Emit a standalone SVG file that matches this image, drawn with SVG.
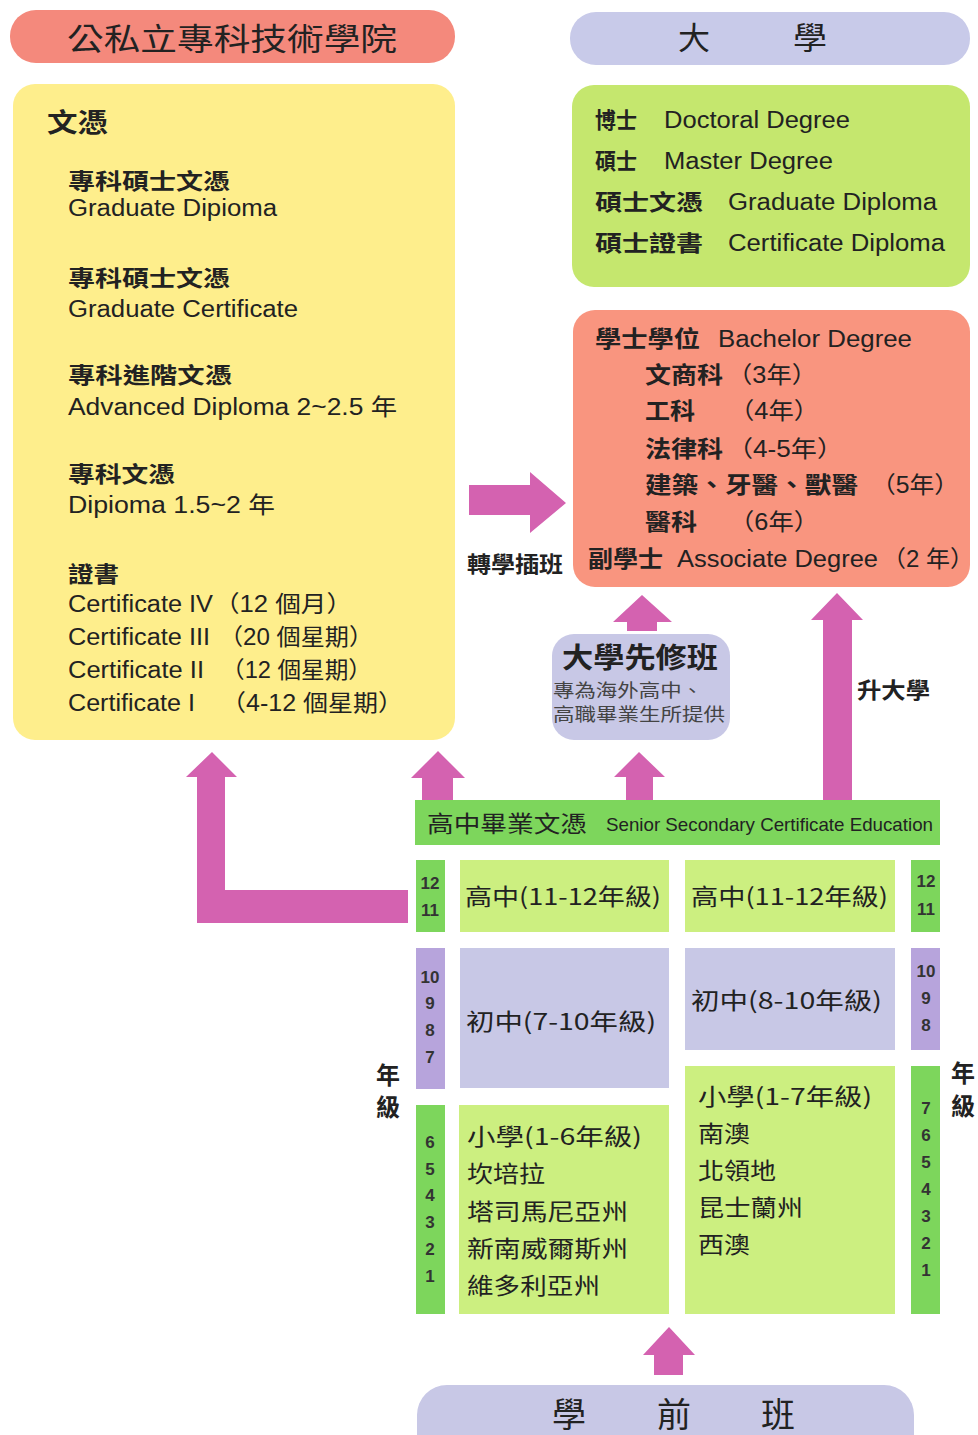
<svg xmlns="http://www.w3.org/2000/svg" width="978" height="1435" viewBox="0 0 978 1435">
<style>
text{font-family:"Liberation Sans","Noto Sans CJK TC",sans-serif;fill:#222}
.cj{font-family:"Noto Sans CJK TC","Liberation Sans",sans-serif}
.b{font-weight:bold}
.num{font-family:"Liberation Sans","Noto Sans CJK TC",sans-serif;font-weight:bold;font-size:17px;text-anchor:middle;fill:#333}
.arrow{fill:#D462B0}
.g{fill:#7DD65C}.lg{fill:#CCEF80}.pu{fill:#B7A4DC}.lv{fill:#C8C8E6}
</style>
<rect width="978" height="1435" fill="#FFFFFF"/>

<g id="connectors">
<polygon class="arrow" points="469,485 530,485 530,472 566,503 530,533 530,515 469,515"/>
<polygon class="arrow" points="642,595 672,622 657,622 657,631 627,631 627,622 613,622"/>
<polygon class="arrow" points="837,593 863,620 852,620 852,800 823,800 823,620 811,620"/>
<polygon class="arrow" points="438,751 465,778 453,778 453,800 422,800 422,778 411,778"/>
<polygon class="arrow" points="639,752 665,777 653,777 653,800 626,800 626,777 614,777"/>
<polygon class="arrow" points="212,752 237,777 225,777 225,890 408,890 408,923 197,923 197,777 186,777"/>
<polygon class="arrow" points="669,1327 695,1355 683,1355 683,1375 654,1375 654,1355 643,1355"/>
<text class="cj b" x="467" y="572" font-size="22" textLength="96" lengthAdjust="spacingAndGlyphs">轉學插班</text>
<text class="cj b" x="857" y="698" font-size="22" textLength="73" lengthAdjust="spacingAndGlyphs">升大學</text>
</g>

<g id="college-header">
<rect x="10" y="10" width="445" height="53" rx="26" fill="#F4897C"/>
<text class="cj" x="67" y="50" font-size="31" textLength="330" lengthAdjust="spacingAndGlyphs">公私立專科技術學院</text>
</g>

<g id="university-header">
<rect x="570" y="12" width="400" height="53" rx="26" fill="#C8CAE9"/>
<text class="cj" x="678" y="49" font-size="31" textLength="32" lengthAdjust="spacingAndGlyphs">大</text>
<text class="cj" x="793" y="49" font-size="31" textLength="34" lengthAdjust="spacingAndGlyphs">學</text>
</g>

<g id="college-box">
<rect x="13" y="84" width="442" height="656" rx="22" fill="#FEEE8C"/>
<text class="cj b" x="47" y="132" font-size="26" textLength="61" lengthAdjust="spacingAndGlyphs">文憑</text>
<text class="cj b" x="68" y="189" font-size="22" textLength="162" lengthAdjust="spacingAndGlyphs">專科碩士文憑</text>
<text x="68" y="216" font-size="23" textLength="209" lengthAdjust="spacingAndGlyphs">Graduate Dipioma</text>
<text class="cj b" x="68" y="286" font-size="22" textLength="162" lengthAdjust="spacingAndGlyphs">專科碩士文憑</text>
<text x="68" y="317" font-size="23" textLength="230" lengthAdjust="spacingAndGlyphs">Graduate Certificate</text>
<text class="cj b" x="68" y="383" font-size="22" textLength="164" lengthAdjust="spacingAndGlyphs">專科進階文憑</text>
<text x="68" y="415" font-size="23" textLength="329" lengthAdjust="spacingAndGlyphs">Advanced Diploma  2~2.5 年</text>
<text class="cj b" x="68" y="482" font-size="22" textLength="107" lengthAdjust="spacingAndGlyphs">專科文憑</text>
<text x="68" y="513" font-size="23" textLength="207" lengthAdjust="spacingAndGlyphs">Dipioma  1.5~2 年</text>
<text class="cj b" x="68" y="582" font-size="22" textLength="51" lengthAdjust="spacingAndGlyphs">證書</text>
<text x="68" y="612" font-size="23" textLength="145" lengthAdjust="spacingAndGlyphs">Certificate IV</text>
<text x="214" y="612" font-size="23" textLength="138" lengthAdjust="spacingAndGlyphs">（12 個月）</text>
<text x="68" y="645" font-size="23" textLength="142" lengthAdjust="spacingAndGlyphs">Certificate III</text>
<text x="219" y="645" font-size="23" textLength="154" lengthAdjust="spacingAndGlyphs">（20 個星期）</text>
<text x="68" y="678" font-size="23" textLength="136" lengthAdjust="spacingAndGlyphs">Certificate II</text>
<text x="221" y="678" font-size="23" textLength="151" lengthAdjust="spacingAndGlyphs">（12 個星期）</text>
<text x="68" y="711" font-size="23" textLength="127" lengthAdjust="spacingAndGlyphs">Certificate I</text>
<text x="221" y="711" font-size="23" textLength="182" lengthAdjust="spacingAndGlyphs">（4-12 個星期）</text>
</g>

<g id="university-box">
<rect x="572" y="85" width="398" height="202" rx="22" fill="#C5E76E"/>
<text class="cj b" x="595" y="128" font-size="22" textLength="42" lengthAdjust="spacingAndGlyphs">博士</text>
<text x="664" y="128" font-size="23" textLength="186" lengthAdjust="spacingAndGlyphs">Doctoral Degree</text>
<text class="cj b" x="595" y="169" font-size="22" textLength="42" lengthAdjust="spacingAndGlyphs">碩士</text>
<text x="664" y="169" font-size="23" textLength="169" lengthAdjust="spacingAndGlyphs">Master Degree</text>
<text class="cj b" x="595" y="210" font-size="22" textLength="108" lengthAdjust="spacingAndGlyphs">碩士文憑</text>
<text x="728" y="210" font-size="23" textLength="209" lengthAdjust="spacingAndGlyphs">Graduate Diploma</text>
<text class="cj b" x="595" y="251" font-size="22" textLength="108" lengthAdjust="spacingAndGlyphs">碩士證書</text>
<text x="728" y="251" font-size="23" textLength="217" lengthAdjust="spacingAndGlyphs">Certificate Diploma</text>
</g>

<g id="bachelor-box">
<rect x="573" y="310" width="397" height="277" rx="22" fill="#F9957F"/>
<text class="cj b" x="595" y="347" font-size="23" textLength="105" lengthAdjust="spacingAndGlyphs">學士學位</text>
<text x="718" y="347" font-size="23" textLength="194" lengthAdjust="spacingAndGlyphs">Bachelor Degree</text>
<text class="cj b" x="645" y="383" font-size="23" textLength="78" lengthAdjust="spacingAndGlyphs">文商科</text>
<text x="727" y="383" font-size="23" textLength="90" lengthAdjust="spacingAndGlyphs">（3年）</text>
<text class="cj b" x="645" y="419" font-size="23" textLength="50" lengthAdjust="spacingAndGlyphs">工科</text>
<text x="729" y="419" font-size="23" textLength="90" lengthAdjust="spacingAndGlyphs">（4年）</text>
<text class="cj b" x="645" y="457" font-size="23" textLength="78" lengthAdjust="spacingAndGlyphs">法律科</text>
<text x="727" y="457" font-size="23" textLength="116" lengthAdjust="spacingAndGlyphs">（4-5年）</text>
<text class="cj b" x="645" y="493" font-size="23" textLength="213" lengthAdjust="spacingAndGlyphs">建築、牙醫、獸醫</text>
<text x="871" y="493" font-size="23" textLength="88" lengthAdjust="spacingAndGlyphs">（5年）</text>
<text class="cj b" x="645" y="530" font-size="23" textLength="52" lengthAdjust="spacingAndGlyphs">醫科</text>
<text x="729" y="530" font-size="23" textLength="90" lengthAdjust="spacingAndGlyphs">（6年）</text>
<text class="cj b" x="588" y="567" font-size="23" textLength="75" lengthAdjust="spacingAndGlyphs">副學士</text>
<text x="677" y="567" font-size="23" textLength="201" lengthAdjust="spacingAndGlyphs">Associate Degree</text>
<text x="882" y="567" font-size="23" textLength="92" lengthAdjust="spacingAndGlyphs">（2 年）</text>
</g>

<g id="foundation-box">
<rect x="552" y="634" width="178" height="106" rx="22" class="lv"/>
<text class="cj b" x="562" y="668" font-size="28" textLength="156" lengthAdjust="spacingAndGlyphs">大學先修班</text>
<text class="cj" x="553" y="697" font-size="18" textLength="150" lengthAdjust="spacingAndGlyphs" style="fill:#444">專為海外高中、</text>
<text class="cj" x="553" y="721" font-size="18" textLength="172" lengthAdjust="spacingAndGlyphs" style="fill:#444">高職畢業生所提供</text>
</g>

<g id="ssce-bar">
<rect x="415" y="800" width="525" height="45" class="g"/>
<text class="cj" x="427" y="832" font-size="23" textLength="160" lengthAdjust="spacingAndGlyphs">高中畢業文憑</text>
<text x="606" y="831" font-size="19" textLength="327" lengthAdjust="spacingAndGlyphs">Senior Secondary Certificate Education</text>
</g>

<g id="senior-left">
<rect x="416" y="860" width="29" height="72" class="g"/>
<text class="num" x="430" y="889">12</text>
<text class="num" x="430" y="916">11</text>
<rect x="460" y="860" width="209" height="72" class="lg"/>
<text class="cj" x="465" y="905" font-size="23" textLength="196" lengthAdjust="spacingAndGlyphs">高中(11-12年級)</text>
</g>

<g id="senior-right">
<rect x="685" y="860" width="210" height="72" class="lg"/>
<text class="cj" x="691" y="905" font-size="23" textLength="197" lengthAdjust="spacingAndGlyphs">高中(11-12年級)</text>
<rect x="911" y="860" width="29" height="72" class="g"/>
<text class="num" x="926" y="887">12</text>
<text class="num" x="926" y="915">11</text>
</g>

<g id="junior-left">
<rect x="416" y="948" width="29" height="141" class="pu"/>
<text class="num" x="430" y="983">10</text>
<text class="num" x="430" y="1009">9</text>
<text class="num" x="430" y="1036">8</text>
<text class="num" x="430" y="1063">7</text>
<rect x="460" y="948" width="209" height="140" class="lv"/>
<text class="cj" x="466" y="1030" font-size="23" textLength="190" lengthAdjust="spacingAndGlyphs">初中(7-10年級)</text>
</g>

<g id="junior-right">
<rect x="685" y="948" width="210" height="102" class="lv"/>
<text class="cj" x="691" y="1009" font-size="23" textLength="191" lengthAdjust="spacingAndGlyphs">初中(8-10年級)</text>
<rect x="911" y="948" width="29" height="102" class="pu"/>
<text class="num" x="926" y="977">10</text>
<text class="num" x="926" y="1004">9</text>
<text class="num" x="926" y="1031">8</text>
</g>

<g id="primary-left">
<rect x="416" y="1105" width="29" height="209" class="g"/>
<text class="num" x="430" y="1148">6</text>
<text class="num" x="430" y="1175">5</text>
<text class="num" x="430" y="1201">4</text>
<text class="num" x="430" y="1228">3</text>
<text class="num" x="430" y="1255">2</text>
<text class="num" x="430" y="1282">1</text>
<rect x="459" y="1105" width="210" height="209" class="lg"/>
<text class="cj" x="467" y="1145" font-size="23" textLength="175" lengthAdjust="spacingAndGlyphs">小學(1-6年級)</text>
<text class="cj" x="467" y="1182" font-size="23" textLength="78" lengthAdjust="spacingAndGlyphs">坎培拉</text>
<text class="cj" x="467" y="1220" font-size="23" textLength="161" lengthAdjust="spacingAndGlyphs">塔司馬尼亞州</text>
<text class="cj" x="467" y="1257" font-size="23" textLength="161" lengthAdjust="spacingAndGlyphs">新南威爾斯州</text>
<text class="cj" x="467" y="1294" font-size="23" textLength="133" lengthAdjust="spacingAndGlyphs">維多利亞州</text>
</g>

<g id="primary-right">
<rect x="685" y="1066" width="210" height="248" class="lg"/>
<text class="cj" x="698" y="1105" font-size="23" textLength="174" lengthAdjust="spacingAndGlyphs">小學(1-7年級)</text>
<text class="cj" x="698" y="1142" font-size="23" textLength="52" lengthAdjust="spacingAndGlyphs">南澳</text>
<text class="cj" x="698" y="1179" font-size="23" textLength="78" lengthAdjust="spacingAndGlyphs">北領地</text>
<text class="cj" x="698" y="1216" font-size="23" textLength="105" lengthAdjust="spacingAndGlyphs">昆士蘭州</text>
<text class="cj" x="698" y="1253" font-size="23" textLength="52" lengthAdjust="spacingAndGlyphs">西澳</text>
<rect x="911" y="1066" width="29" height="248" class="g"/>
<text class="num" x="926" y="1114">7</text>
<text class="num" x="926" y="1141">6</text>
<text class="num" x="926" y="1168">5</text>
<text class="num" x="926" y="1195">4</text>
<text class="num" x="926" y="1222">3</text>
<text class="num" x="926" y="1249">2</text>
<text class="num" x="926" y="1276">1</text>
</g>

<g id="grade-labels">
<text class="cj b" x="388" y="1084" font-size="24" text-anchor="middle">年</text>
<text class="cj b" x="388" y="1116" font-size="24" text-anchor="middle">級</text>
<text class="cj b" x="963" y="1082" font-size="24" text-anchor="middle">年</text>
<text class="cj b" x="963" y="1115" font-size="24" text-anchor="middle">級</text>
</g>

<g id="preschool">
<rect x="417" y="1385" width="497" height="80" rx="30" class="lv"/>
<text class="cj" x="552" y="1427" font-size="34">學</text>
<text class="cj" x="657" y="1427" font-size="34">前</text>
<text class="cj" x="761" y="1427" font-size="34">班</text>
</g>
</svg>
